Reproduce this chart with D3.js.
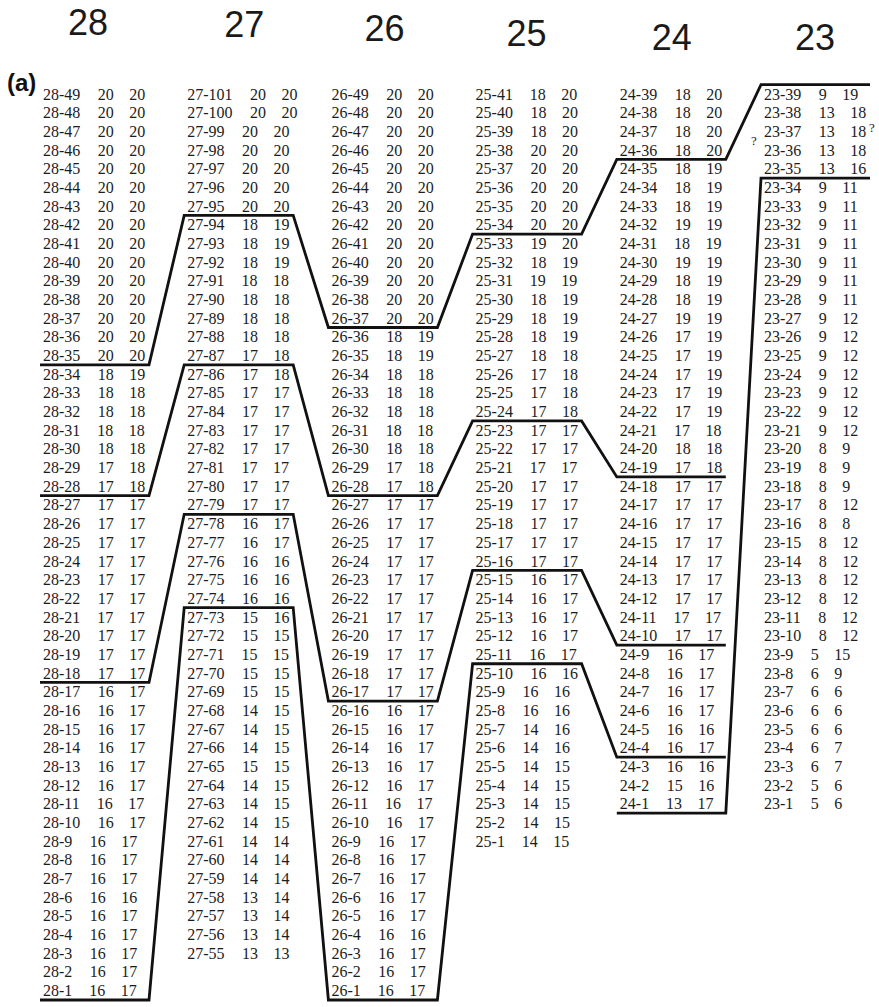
<!DOCTYPE html>
<html>
<head>
    <meta http-equiv="content-type" content="text/html; charset=utf-8">
    <script type="text/javascript" src="https://d3js.org/d3.v7.min.js"></script>
    <style>
        body { margin: 0; background: #ffffff; }
        .row { font-family: "Liberation Serif", "Times New Roman", serif; font-size: 16px; fill: #1c1c1c; }
        .head { font-family: "Liberation Sans", Arial, sans-serif; font-size: 36px; fill: #1a1a1a; }
        .tag { font-family: "Liberation Sans", Arial, sans-serif; font-size: 24px; font-weight: bold; fill: #111; }
        .q { font-family: "Liberation Serif", serif; font-size: 13px; fill: #1c1c1c; }
        .level { fill: none; stroke: #111; stroke-width: 2.8; }
    </style>
    <script>
        // columns (left to right) and their first / second values, top row first
        var columns = ['28', '27', '26', '25', '24', '23'];

        var c28a = [20,20,20,20,20,20,20,20,20,20,20,20,20,20,20,18,18,18,18,18,17,17,17,17,17,17,17,17,17,17,17,17,16,16,16,16,16,16,16,16,16,16,16,16,16,16,16,16,16];
        var c28b = [20,20,20,20,20,20,20,20,20,20,20,20,20,20,20,19,18,18,18,18,18,18,17,17,17,17,17,17,17,17,17,17,17,17,17,17,17,17,17,17,17,17,17,16,17,17,17,17,17];

        var c27a = [20,20,20,20,20,20,20,18,18,18,18,18,18,18,17,17,17,17,17,17,17,17,17,16,16,16,16,16,15,15,15,15,15,14,14,14,15,14,14,14,14,14,14,13,13,13,13];
        var c27b = [20,20,20,20,20,20,20,19,19,19,18,18,18,18,18,18,17,17,17,17,17,17,17,17,17,16,16,16,16,15,15,15,15,15,15,15,15,15,15,15,14,14,14,14,14,14,13];

        var c26a = [20,20,20,20,20,20,20,20,20,20,20,20,20,18,18,18,18,18,18,18,17,17,17,17,17,17,17,17,17,17,17,17,17,16,16,16,16,16,16,16,16,16,16,16,16,16,16,16,16];
        var c26b = [20,20,20,20,20,20,20,20,20,20,20,20,20,19,19,18,18,18,18,18,18,18,17,17,17,17,17,17,17,17,17,17,17,17,17,17,17,17,17,17,17,17,17,17,17,16,17,17,17];

        var c25a = [18,18,18,20,20,20,20,20,19,18,19,18,18,18,18,17,17,17,17,17,17,17,17,17,17,17,16,16,16,16,16,16,16,16,14,14,14,14,14,14,14];
        var c25b = [20,20,20,20,20,20,20,20,20,19,19,19,19,19,18,18,18,18,17,17,17,17,17,17,17,17,17,17,17,17,17,16,16,16,16,16,15,15,15,15,15];

        var c24a = [18,18,18,18,18,18,18,19,18,19,18,18,19,17,17,17,17,17,17,18,17,17,17,17,17,17,17,17,17,17,16,16,16,16,16,16,16,15,13];
        var c24b = [20,20,20,20,19,19,19,19,19,19,19,19,19,19,19,19,19,19,18,18,18,17,17,17,17,17,17,17,17,17,17,17,17,17,16,17,16,16,17];

        var c23a = [9,13,13,13,13,9,9,9,9,9,9,9,9,9,9,9,9,9,9,8,8,8,8,8,8,8,8,8,8,8,5,6,6,6,6,6,6,5,5];
        var c23b = [19,18,18,18,16,11,11,11,11,11,11,11,12,12,12,12,12,12,12,9,9,9,12,8,12,12,12,12,12,12,15,9,6,6,6,7,7,6,6];

        var firstValues = [c28a, c27a, c26a, c25a, c24a, c23a];
        var secondValues = [c28b, c27b, c26b, c25b, c24b, c23b];

        // boundary lines: [column, sample the line runs under]
        var levelA = [['28', 35], ['27', 95], ['26', 37], ['25', 34], ['24', 36], ['23', 40]];
        var levelB = [['28', 28], ['27', 87], ['26', 28], ['25', 24], ['24', 19]];
        var levelC = [['28', 18], ['27', 79], ['26', 17], ['25', 16], ['24', 10]];
        var levelD = [['28', 1], ['27', 74], ['26', 1], ['25', 11], ['24', 4]];
        var levelE = [['24', 1], ['23', 35]];
        var levels = [levelA, levelB, levelC, levelD, levelE];

        // question marks next to 23-37 / 23-36
        var queries = ['?', '?'];

        function init()
        {
            var width = 879, height = 1007;
            var pitch = 18.68;

            var svg = d3.select('#chart').append('svg')
                .attr('width', width)
                .attr('height', height);

            var x = d3.scalePoint().domain(columns).range([43, 764]);
            var y = d3.scaleLinear().domain([0, 48]).range([94, 94 + 48 * pitch]);

            // top sample number of each column
            var topSample = {};
            columns.forEach(function(c, k)
            {
                var n = firstValues[k].length;
                topSample[c] = c === '27' ? 54 + n : n;
            });

            var headPos = [[45, 35], [57, 37], [53, 41], [51, 46], [52, 50], [51, 50]];
            svg.selectAll('.head').data(columns).enter().append('text')
                .attr('class', 'head')
                .attr('text-anchor', 'middle')
                .attr('x', function(d, k) { return x(d) + headPos[k][0]; })
                .attr('y', function(d, k) { return headPos[k][1]; })
                .text(function(d) { return d; });

            svg.append('text').attr('class', 'tag').attr('x', 7).attr('y', 91).text('(a)');

            columns.forEach(function(c, k)
            {
                var rows = firstValues[k].map(function(v, i)
                {
                    return { label: c + '-' + (topSample[c] - i), a: v, b: secondValues[k][i], i: i };
                });

                var t = svg.selectAll('.row-' + c).data(rows).enter().append('text')
                    .attr('class', 'row row-' + c)
                    .attr('x', x(c))
                    .attr('y', function(d) { return y(d.i) + 5.5; });
                t.append('tspan').text(function(d) { return d.label; });
                t.append('tspan').attr('dx', 17.5).text(function(d) { return d.a; });
                t.append('tspan').attr('dx', 15.5).text(function(d) { return d.b; });
            });

            var line = d3.line();
            svg.selectAll('.level').data(levels).enter().append('path')
                .attr('class', 'level')
                .attr('d', function(lv)
                {
                    var pts = [];
                    lv.forEach(function(p)
                    {
                        var yy = y(topSample[p[0]] - p[1]) + pitch / 2;
                        pts.push([x(p[0]) - 3, yy]);
                        pts.push([x(p[0]) + 106, yy]);
                    });
                    return line(pts);
                });

            svg.selectAll('.q').data(queries).enter().append('text')
                .attr('class', 'q')
                .attr('x', function(d, k) { return k === 0 ? x('23') - 13 : x('23') + 105; })
                .attr('y', function(d, k) { return k === 0 ? y(2.5) + 4 : y(2) + 1; })
                .text(function(d) { return d; });
        }
        window.addEventListener('load', init, false);
    </script>
</head>
<body>
    <div id="chart"></div>
</body>
</html>
